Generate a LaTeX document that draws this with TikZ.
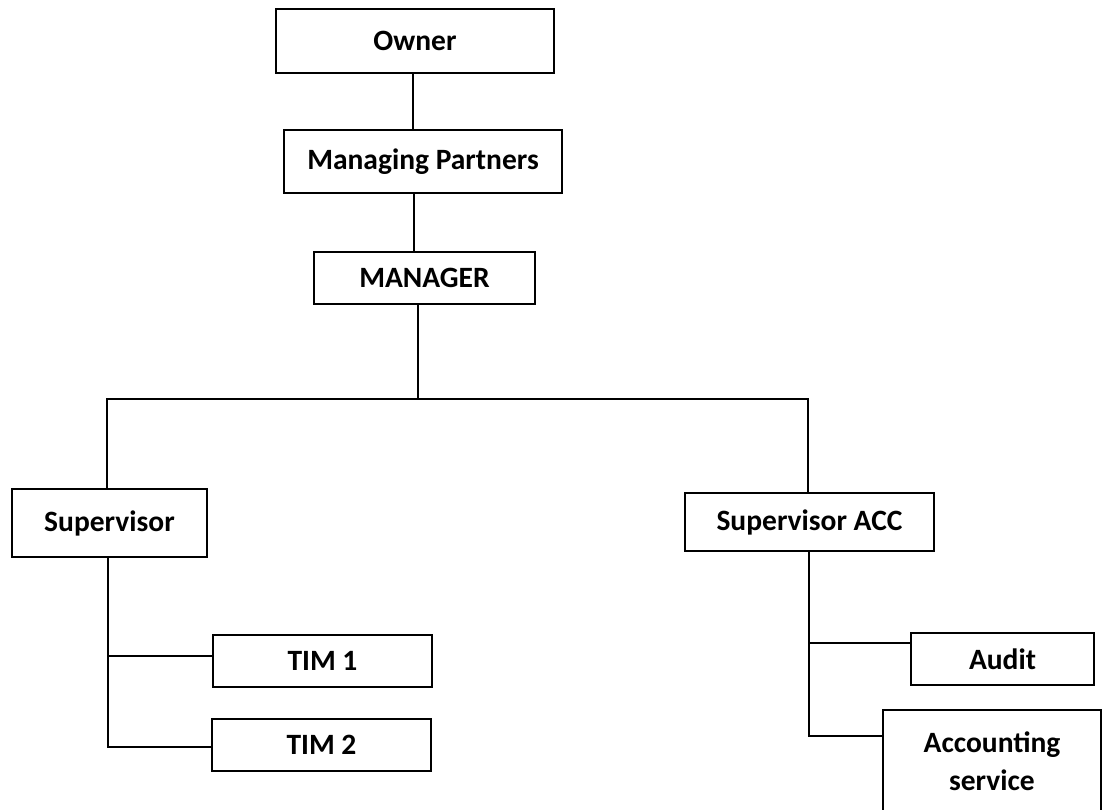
\documentclass[tikz,border=0pt]{standalone}
\usepackage{fontspec}
\setmainfont{Carlito}
\begin{document}
\begin{tikzpicture}[x=1pt,y=-1pt,
  box/.style={draw, line width=1.5pt, rectangle, inner sep=0pt, font=\fontsize{29.5}{38}\selectfont\bfseries, align=center},
  link/.style={draw, line width=1.5pt}]
\useasboundingbox (0,0) rectangle (1102,809);
\clip (0,0) rectangle (1102,809);
\node[box, minimum width=278pt, minimum height=64pt] (owner) at (415,41) {Owner};
\node[box, minimum width=278pt, minimum height=63pt] (mp) at (423,161.5) {Managing Partners};
\node[box, minimum width=221pt, minimum height=52pt] (manager) at (424.5,278) {MANAGER};
\node[box, minimum width=195pt, minimum height=68pt] (sup) at (109.5,523) {Supervisor};
\node[box, minimum width=249pt, minimum height=58pt] (supacc) at (809.5,522) {Supervisor ACC};
\node[box, minimum width=219pt, minimum height=52pt] (tim1) at (322.5,661) {TIM 1};
\node[box, minimum width=219pt, minimum height=52pt] (tim2) at (321.5,745) {TIM 2};
\node[box, minimum width=183pt, minimum height=52pt] (audit) at (1002.5,659) {Audit};
\node[box, minimum width=218pt, minimum height=102pt] (acc) at (992,761) {Accounting\\service};
% top chain
\coordinate (c1) at (413,0);
\draw[link] (owner.south -| c1) -- (mp.north -| c1);
\coordinate (c2) at (414,0);
\draw[link] (mp.south -| c2) -- (manager.north -| c2);
% bus
\coordinate (bus) at (418,399);
\coordinate (busL) at (107,399);
\coordinate (busR) at (808,399);
\draw[link] (manager.south -| bus) -- (bus);
\draw[link] (busL |- sup.north) -- (busL) -- (busR) -- (busR |- supacc.north);
% supervisor branch
\coordinate (sdn) at (108,747);
\coordinate (sj) at (108,656);
\draw[link] (sup.south -| sdn) -- (sdn) -- (sdn -| tim2.west);
\draw[link] (sj) -- (sj -| tim1.west);
% supervisor ACC branch
\coordinate (adn) at (809,736);
\coordinate (aj) at (809,643);
\draw[link] (supacc.south -| adn) -- (adn) -- (adn -| acc.west);
\draw[link] (aj) -- (aj -| audit.west);
\end{tikzpicture}
\end{document}
